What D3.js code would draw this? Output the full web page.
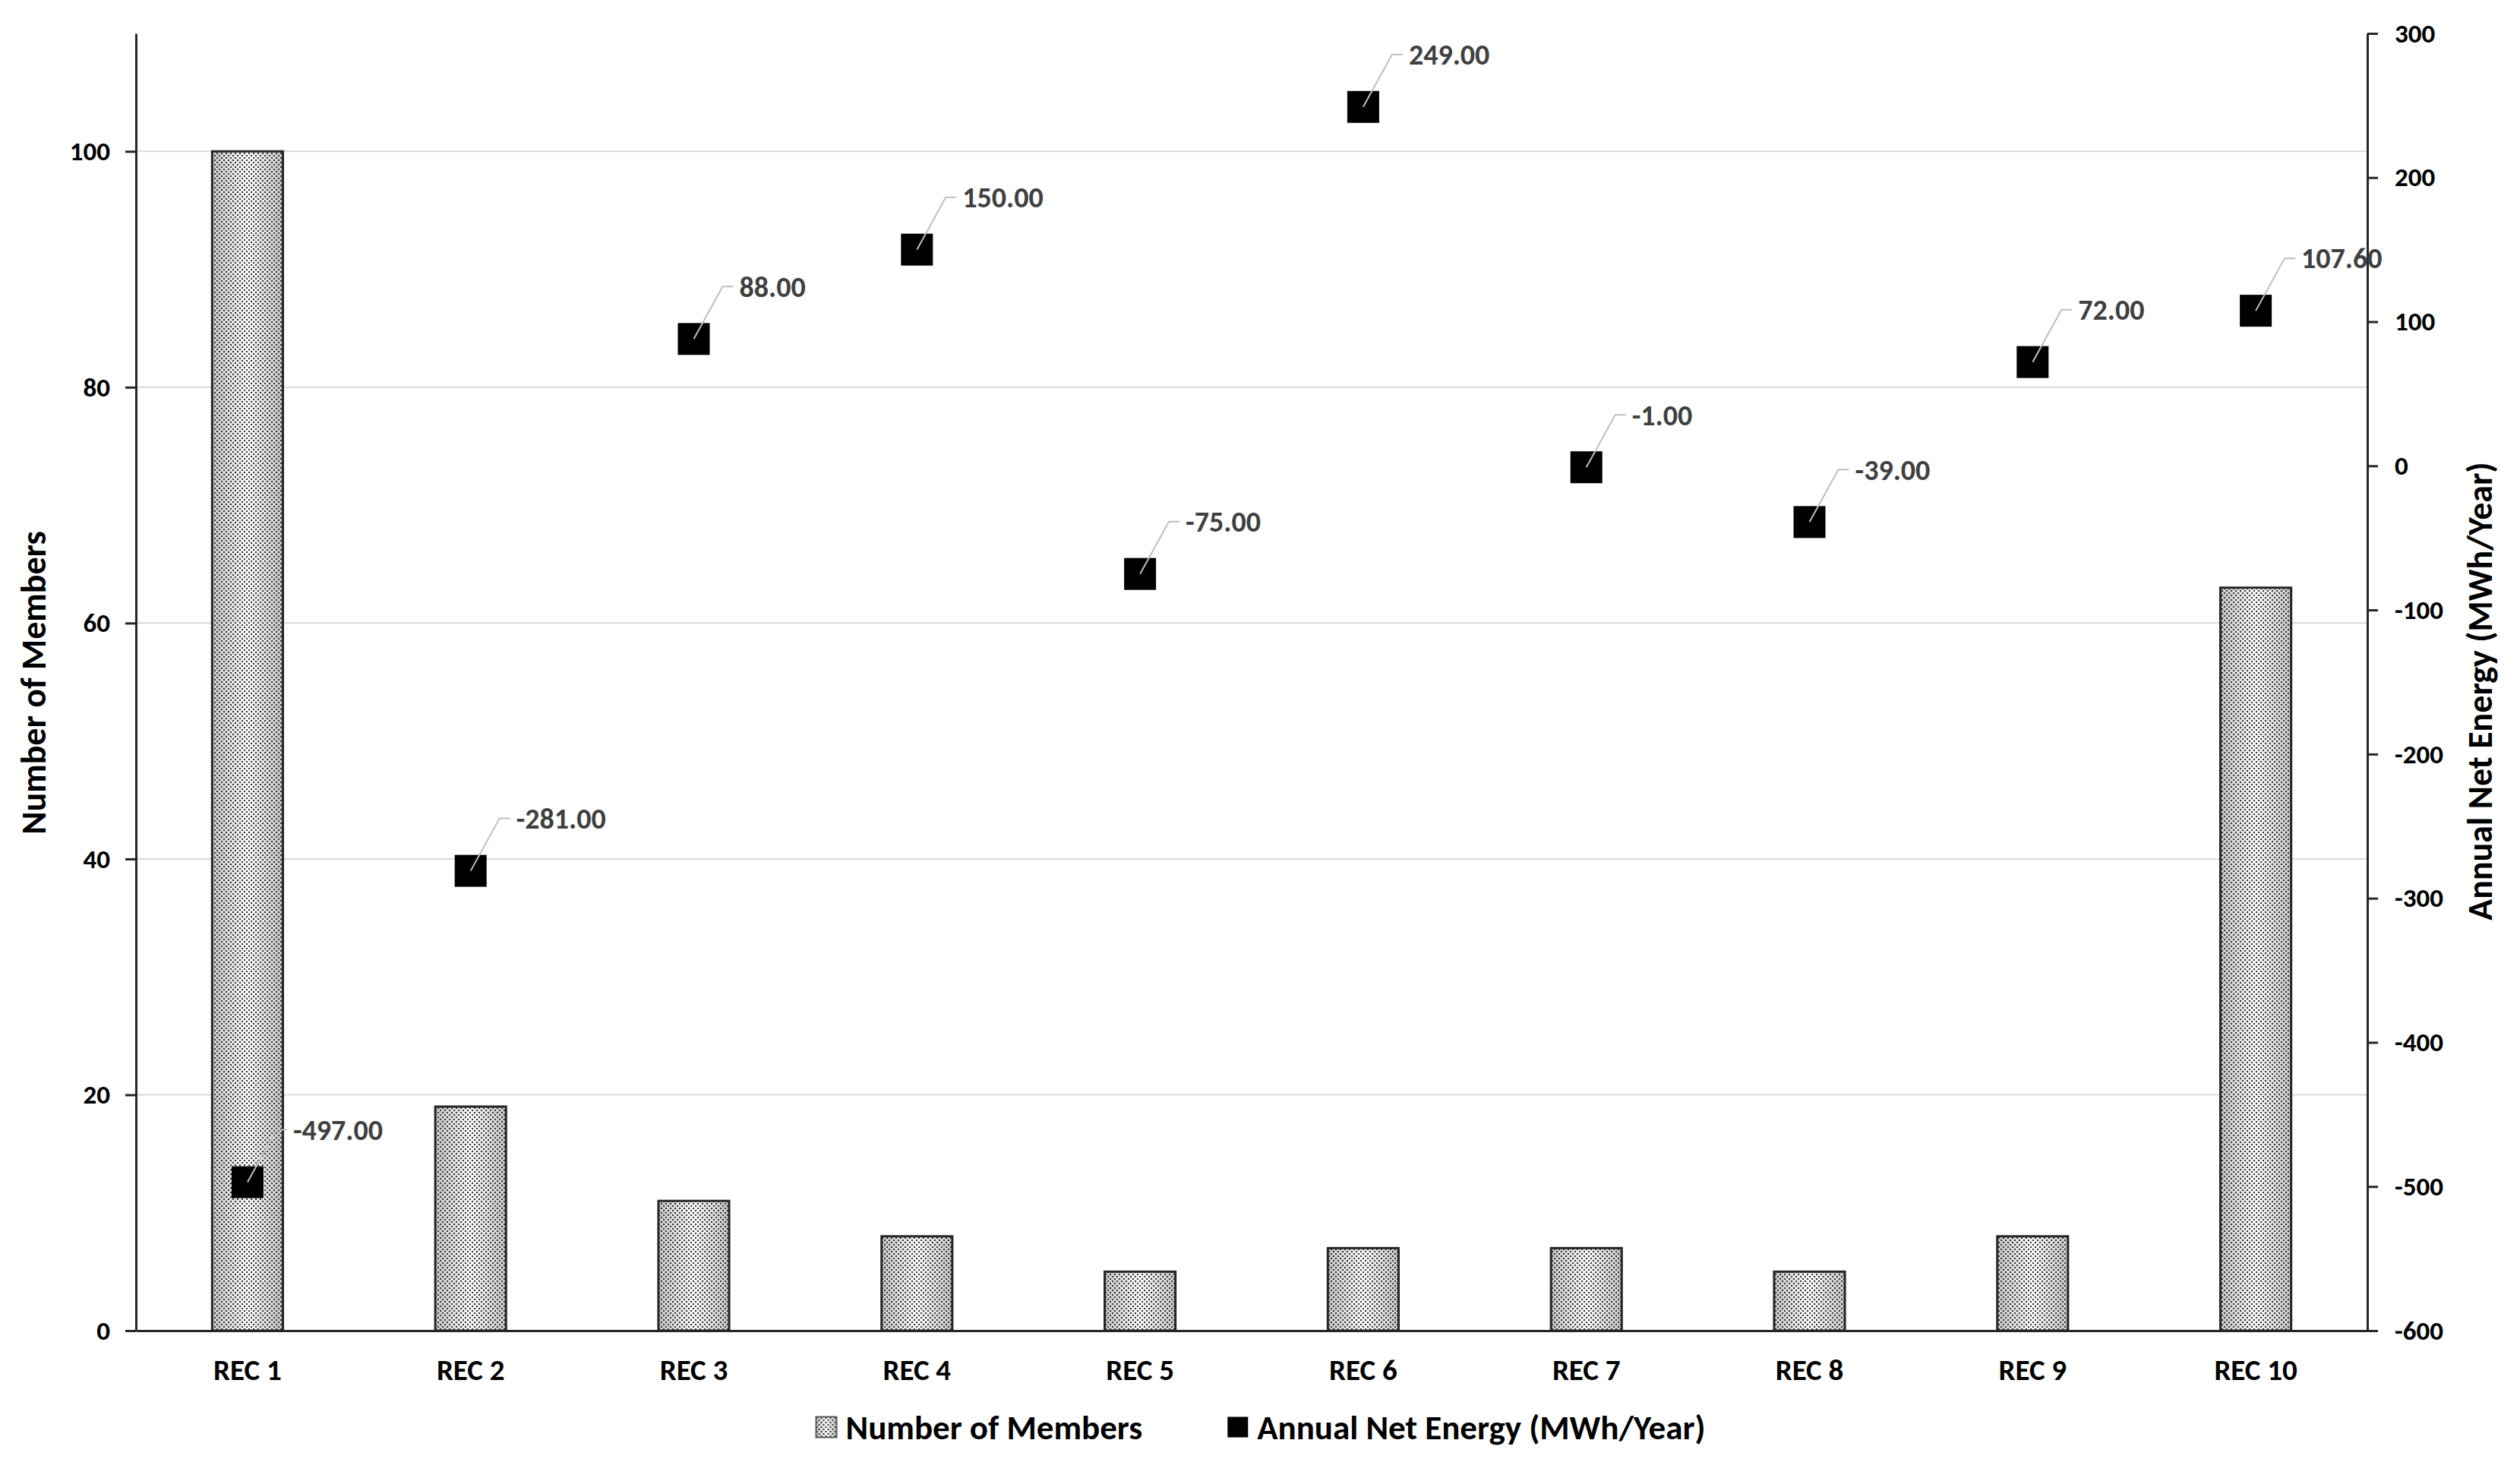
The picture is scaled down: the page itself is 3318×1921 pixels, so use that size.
<!DOCTYPE html>
<html>
<head>
<meta charset="utf-8">
<title>REC members and annual net energy</title>
<script src="https://cdn.jsdelivr.net/npm/d3@7"></script>
<style>
  body { margin: 0; background: #fff; }
  svg { display: block; font-family: Carlito, Lato, sans-serif; font-weight: bold; }
  .axis text { fill: #000; }
  .axis path, .axis line { stroke: #262626; stroke-width: 3; }
</style>
</head>
<body>
<svg id="chart" width="3318" height="1921"></svg>
<script>
  var categories = ["REC 1", "REC 2", "REC 3", "REC 4", "REC 5", "REC 6", "REC 7", "REC 8", "REC 9", "REC 10"];
  var members = [100, 19, 11, 8, 5, 7, 7, 5, 8, 63];
  var netEnergy = [-497, -281, 88, 150, -75, 249, -1, -39, 72, 107.6];
  var memberTicks = [0, 20, 40, 60, 80, 100];
  var energyTicks = [-600, -500, -400, -300, -200, -100, 0, 100, 200, 300];
  var seriesNames = ["Number of Members", "Annual Net Energy (MWh/Year)"];

  var svg = d3.select('#chart');
  var plotLeft = 179, plotRight = 3117, plotTop = 44, plotBottom = 1752;

  // plain hyphen for negatives, like the original
  var loc = d3.formatLocale({ decimal: '.', thousands: ',', grouping: [3], currency: ['', ''], minus: '-' });
  var fmtTick = loc.format('d');
  var fmtVal = loc.format('.2f');

  var x = d3.scaleBand().domain(categories).range([plotLeft, plotRight]);
  var yL = d3.scaleLinear().domain([0, 110]).range([plotBottom, plotTop]);
  var yR = d3.scaleLinear().domain([-600, 300]).range([plotBottom, plotTop]);
  var barW = x.bandwidth() * 0.317;
  var markerSize = 42;

  // textured fill for the bars: grey fade + dot pattern
  var defs = svg.append('defs');
  var grad = defs.append('linearGradient').attr('id', 'barFade')
    .attr('x1', 0).attr('x2', 1).attr('y1', 0).attr('y2', 0);
  grad.append('stop').attr('offset', '0%').attr('stop-color', '#c4c4c4');
  grad.append('stop').attr('offset', '50%').attr('stop-color', '#f9f9f9');
  grad.append('stop').attr('offset', '100%').attr('stop-color', '#c4c4c4');
  var dots = defs.append('pattern').attr('id', 'dots')
    .attr('width', 6).attr('height', 6).attr('patternUnits', 'userSpaceOnUse');
  dots.append('rect').attr('x', 0).attr('y', 0).attr('width', 2).attr('height', 2).attr('fill', '#333');
  dots.append('rect').attr('x', 3).attr('y', 3).attr('width', 2).attr('height', 2).attr('fill', '#333');

  // gridlines (left axis)
  svg.append('g').selectAll('line')
    .data(memberTicks.filter(function(d) { return d > 0; }))
    .enter().append('line')
    .attr('x1', plotLeft).attr('x2', plotRight)
    .attr('y1', function(d) { return yL(d); })
    .attr('y2', function(d) { return yL(d); })
    .attr('stroke', '#d9d9d9').attr('stroke-width', 2);

  // bars
  var bars = svg.append('g');
  categories.forEach(function(c, i) {
    var bx = x(c) + (x.bandwidth() - barW) / 2;
    var by = yL(members[i]);
    var bh = plotBottom - by;
    bars.append('rect').attr('x', bx).attr('y', by).attr('width', barW).attr('height', bh)
      .attr('fill', 'url(#barFade)');
    bars.append('rect').attr('x', bx).attr('y', by).attr('width', barW).attr('height', bh)
      .attr('fill', 'url(#dots)').attr('stroke', '#262626').attr('stroke-width', 3);
  });

  // axes
  var axL = svg.append('g').attr('class', 'axis')
    .attr('transform', 'translate(' + plotLeft + ',0)')
    .call(d3.axisLeft(yL).tickValues(memberTicks).tickFormat(fmtTick)
      .tickSize(14).tickSizeOuter(0).tickPadding(20));
  var axR = svg.append('g').attr('class', 'axis')
    .attr('transform', 'translate(' + plotRight + ',0)')
    .call(d3.axisRight(yR).tickValues(energyTicks).tickFormat(fmtTick)
      .tickSize(14).tickSizeOuter(0).tickPadding(22));
  var axB = svg.append('g').attr('class', 'axis')
    .attr('transform', 'translate(0,' + plotBottom + ')')
    .call(d3.axisBottom(x).tickSize(0).tickSizeOuter(0).tickPadding(37));
  svg.selectAll('g.axis').attr('font-family', null).attr('font-size', 35);
  axB.attr('font-size', 39);

  // markers, leader lines and value labels
  var pts = svg.append('g');
  var lbl = svg.append('g');
  categories.forEach(function(c, i) {
    var mx = x(c) + x.bandwidth() / 2;
    var my = yR(netEnergy[i]);
    pts.append('rect')
      .attr('x', mx - markerSize / 2).attr('y', my - markerSize / 2)
      .attr('width', markerSize).attr('height', markerSize)
      .attr('fill', '#000');
    var ly = my - 69;
    lbl.append('path')
      .attr('d', 'M' + mx + ',' + my + 'L' + (mx + 38) + ',' + ly + 'L' + (mx + 52) + ',' + ly)
      .attr('fill', 'none').attr('stroke', '#bfbfbf').attr('stroke-width', 2);
    lbl.append('text')
      .attr('x', mx + 60).attr('y', ly).attr('dy', '0.35em')
      .attr('font-size', 38).attr('fill', '#404040')
      .text(fmtVal(netEnergy[i]));
  });

  // axis titles
  svg.append('text')
    .attr('transform', 'translate(44,899) rotate(-90)')
    .attr('text-anchor', 'middle').attr('dy', '0.35em')
    .attr('font-size', 46).text(seriesNames[0]);
  svg.append('text')
    .attr('transform', 'translate(3265,910) rotate(-90)')
    .attr('text-anchor', 'middle').attr('dy', '0.35em')
    .attr('font-size', 46).text(seriesNames[1]);

  // legend
  var leg = svg.append('g');
  var legY = 1879, box = 27, gapBox = 12, gapItem = 112;
  var it1 = leg.append('g');
  it1.append('rect').attr('x', 0).attr('y', legY - box / 2).attr('width', box).attr('height', box)
    .attr('fill', 'url(#barFade)');
  it1.append('rect').attr('x', 0).attr('y', legY - box / 2).attr('width', box).attr('height', box)
    .attr('fill', 'url(#dots)').attr('stroke', '#595959').attr('stroke-width', 2);
  var t1 = it1.append('text').attr('x', box + gapBox).attr('y', legY).attr('dy', '0.35em')
    .attr('font-size', 45).text(seriesNames[0]);
  var w1 = box + gapBox + t1.node().getComputedTextLength();
  var it2 = leg.append('g').attr('transform', 'translate(' + (w1 + gapItem) + ',0)');
  it2.append('rect').attr('x', 0).attr('y', legY - box / 2).attr('width', box).attr('height', box)
    .attr('fill', '#000');
  var t2 = it2.append('text').attr('x', box + gapBox).attr('y', legY).attr('dy', '0.35em')
    .attr('font-size', 45).text(seriesNames[1]);
  var wAll = w1 + gapItem + box + gapBox + t2.node().getComputedTextLength();
  leg.attr('transform', 'translate(' + (1660 - wAll / 2) + ',0)');
</script>
</body>
</html>
